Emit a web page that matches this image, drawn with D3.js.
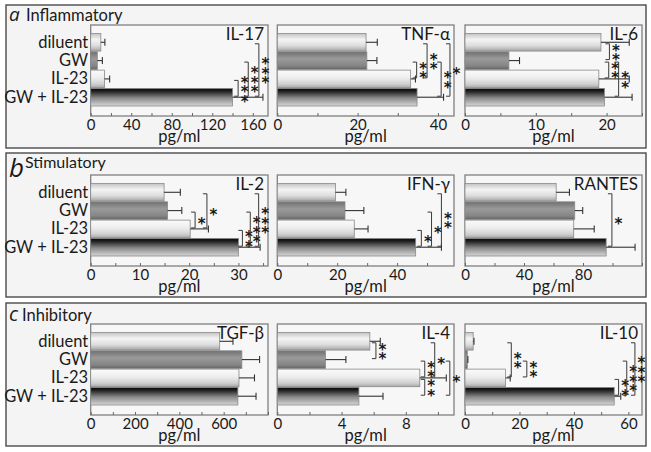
<!DOCTYPE html>
<html><head><meta charset="utf-8">
<script src="https://cdn.jsdelivr.net/npm/d3@7"></script>
<style>
body{margin:0;background:#fff}
text{font-family:Lato,"Open Sans",sans-serif;fill:#1a1a1a}
</style>
</head><body>
<svg id="c" width="651" height="452"></svg>
<script>
// ---------------- data ----------------
const categories = ["diluent", "GW", "IL-23", "GW + IL-23"];
const rowLetters = ["a", "b", "c"];
const rowTitles = ["Inflammatory", "Stimulatory", "Inhibitory"];
const cytokines = ["IL-17", "TNF-α", "IL-6", "IL-2", "IFN-γ", "RANTES", "TGF-β", "IL-4", "IL-10"];
const axisLabel = "pg/ml";

// means (pg/ml) per cytokine, in category order
const il17Mean = [10, 6.5, 13.7, 140];
const tnfMean = [22.1, 22.3, 33.2, 34.8];
const il6Mean = [19.2, 6.2, 18.9, 19.7];
const il2Mean = [14.9, 15.6, 20.2, 30];
const ifnMean = [19.4, 22.6, 25.7, 46.2];
const rantesMean = [61.8, 74.4, 73.7, 95.7];
const tgfMean = [582, 682, 669, 664];
const il4Mean = [5.76, 3.0, 8.87, 5.08];
const il10Mean = [3.0, 0.85, 14.9, 54.8];

// error (SD) per cytokine
const il17Err = [4, 5, 5, 30];
const tnfErr = [2.8, 2.5, 1.2, 6.6];
const il6Err = [4, 1.5, 4.3, 3.9];
const il2Err = [3.3, 2.9, 3.7, 4.4];
const ifnErr = [3.5, 6.3, 4.6, 8.6];
const rantesErr = [9, 5.4, 13.9, 19.6];
const tgfErr = [60, 80, 70, 82];
const il4Err = [0.65, 1.27, 1.65, 1.5];
const il10Err = [0.3, 0.2, 1.7, 2.4];

// axis maxima and tick labels
const axisMax = [175, 44, 25, 36, 59, 120, 800, 11, 65];
const tickLabels = [[0, 40, 80, 120, 160], [0, 20, 40], [0, 10, 20], [0, 10, 20, 30], [0, 20, 40], [0, 40, 80], [0, 200, 400, 600], [0, 4, 8], [0, 20, 40, 60]];
const minorStep = [20, 10, 5, 5, 10, 20, 100, 2, 10];

// significance brackets: [from category, to category, bracket position (pg/ml), stars]
const il17Sig = [[2, 3, 145.5, "***"], [1, 3, 155.5, "***"], [0, 3, 166, "***"]];
const tnfSig = [[1, 2, 34.7, "**"], [0, 2, 37.3, "**"], [1, 3, 40.8, "**"], [0, 3, 43, "*"]];
const il6Sig = [[0, 1, 20.4, "**"], [1, 2, 20.3, "**"], [1, 3, 21.7, "**"]];
const il2Sig = [[1, 2, 21.2, "*"], [0, 2, 23.6, "*"], [2, 3, 30.8, "**"], [1, 3, 32.4, "***"], [0, 3, 34.1, "***"]];
const ifnSig = [[2, 3, 48.1, "*"], [1, 3, 51.5, "*"], [0, 3, 54.8, "**"]];
const rantesSig = [[0, 3, 99.6, "*"]];
const tgfSig = [];
const il4Sig = [[0, 1, 6.14, "**"], [1, 2, 9.18, "**"], [2, 3, 9.18, "**"], [0, 2, 9.8, "*"], [1, 3, 10.74, "*"]];
const il10Sig = [[0, 2, 17, "**"], [1, 2, 22.7, "**"], [2, 3, 56.4, "**"], [1, 3, 59.4, "***"], [0, 3, 62.4, "***"]];

const means = [il17Mean, tnfMean, il6Mean, il2Mean, ifnMean, rantesMean, tgfMean, il4Mean, il10Mean];
const errs = [il17Err, tnfErr, il6Err, il2Err, ifnErr, rantesErr, tgfErr, il4Err, il10Err];
const sigs = [il17Sig, tnfSig, il6Sig, il2Sig, ifnSig, rantesSig, tgfSig, il4Sig, il10Sig];

// ---------------- layout / style ----------------
const svg = d3.select("#c");
const defs = svg.append("defs");
const gradStops = [
  [[0, "#c4c4c4"], [0.35, "#f4f4f4"], [0.7, "#dcdcdc"], [1, "#a4a4a4"]],
  [[0, "#707070"], [0.4, "#9a9a9a"], [0.8, "#858585"], [1, "#666"]],
  [[0, "#fbfbfb"], [0.45, "#ededed"], [0.8, "#cfcfcf"], [1, "#a8a8a8"]],
  [[0, "#080808"], [0.15, "#1e1e1e"], [0.55, "#8a8a8a"], [1, "#d6d6d6"]]
];
gradStops.forEach((st, i) => {
  const g = defs.append("linearGradient").attr("id", "grad" + i)
    .attr("x1", 0).attr("y1", 0).attr("x2", 0).attr("y2", 1);
  st.forEach(s => g.append("stop").attr("offset", s[0]).attr("stop-color", s[1]));
});

const rowBox = [[5, 148], [153, 297], [303, 446]];
const rowTop = [25, 175, 324];
const colX = [[90.7, 268], [277.3, 454], [465, 642]];
const letterSize = [19, 26, 20];
const letterBase = [21, 177, 321];
const titleX = [26, 25, 22];
const titleBase = [21, 168, 321];
const titleSize = [16.5, 16, 16.5];

rowBox.forEach((b, r) => {
  svg.append("rect").attr("x", 6).attr("y", b[0]).attr("width", 640).attr("height", b[1] - b[0])
    .attr("fill", "#f4f4f4").attr("stroke", "#4a4a4a").attr("stroke-width", 1.4);
  svg.append("text").attr("x", 9).attr("y", letterBase[r]).text(rowLetters[r])
    .style("font-family", "'Open Sans'").style("font-style", "italic")
    .style("font-size", letterSize[r] + "px");
  svg.append("text").attr("x", titleX[r]).attr("y", titleBase[r]).text(rowTitles[r])
    .style("font-size", titleSize[r] + "px");
});

cytokines.forEach((name, k) => {
  const r = Math.floor(k / 3), c = k % 3;
  const top = rowTop[r], bottom = top + 91;
  const x = d3.scaleLinear().domain([0, axisMax[k]]).range(colX[c]);
  const y = d3.scaleBand().domain(categories).range([top + 8.5, top + 81]).paddingInner(0.04);
  const bw = y.bandwidth();
  const g = svg.append("g");

  g.append("rect").attr("x", colX[c][0]).attr("y", top).attr("width", colX[c][1] - colX[c][0])
    .attr("height", bottom - top).attr("fill", "#f7f7f7").attr("stroke", "#808080").attr("stroke-width", 1.3);

  // bars
  g.selectAll(".bar").data(categories).join("rect")
    .attr("x", x(0)).attr("y", d => y(d))
    .attr("width", (d, i) => x(means[k][i]) - x(0)).attr("height", bw)
    .attr("fill", (d, i) => `url(#grad${i})`).attr("stroke", "#8a8a8a").attr("stroke-width", 0.8);

  // error bars
  categories.forEach((d, i) => {
    const yc = y(d) + bw / 2, x0 = x(means[k][i]), x1 = x(means[k][i] + errs[k][i]);
    g.append("line").attr("x1", x0).attr("x2", x1).attr("y1", yc).attr("y2", yc)
      .attr("stroke", "#333").attr("stroke-width", 1.1);
    g.append("line").attr("x1", x1).attr("x2", x1).attr("y1", yc - 3.5).attr("y2", yc + 3.5)
      .attr("stroke", "#333").attr("stroke-width", 1.1);
  });

  // significance brackets
  sigs[k].forEach(s => {
    const yA = y(categories[s[0]]) + bw / 2 + 1.5, yB = y(categories[s[1]]) + bw / 2 - 1;
    const xv = x(s[2]);
    g.append("path").attr("d", `M${xv - 4},${yA}H${xv}V${yB}H${xv - 4}`)
      .attr("fill", "none").attr("stroke", "#3a3a3a").attr("stroke-width", 1);
    const n = s[3].length, mid = (yA + yB) / 2, sp = 9.5;
    const t = g.append("text").attr("text-anchor", "middle")
      .style("font-family", "'DejaVu Sans'").style("font-weight", "bold")
      .style("font-size", "15px").attr("fill", "#222");
    for (let j = 0; j < n; j++) {
      const cy = mid + (j - (n - 1) / 2) * sp;
      t.append("tspan").attr("x", xv + 6.5).attr("y", cy + 8.7).text("*");
    }
  });

  // axis
  const ticks = d3.range(0, axisMax[k] + 1e-9, minorStep[k]);
  const ax = d3.axisBottom(x).tickValues(ticks).tickSize(-3).tickPadding(3.5)
    .tickFormat(d => tickLabels[k].includes(d) ? d : "");
  const axg = g.append("g").attr("transform", `translate(0,${bottom})`).call(ax);
  axg.select(".domain").remove();
  axg.selectAll(".tick line").attr("stroke", "#666");
  axg.selectAll(".tick text").style("font-size", "15px").style("font-family", "Lato").attr("fill", "#1a1a1a");

  g.append("text").attr("x", (colX[c][0] + colX[c][1]) / 2).attr("y", bottom + 26)
    .attr("text-anchor", "middle").style("font-size", "16.5px").text(axisLabel);

  // cytokine name
  g.append("text").attr("x", colX[c][1] - 4).attr("y", top + 15).attr("text-anchor", "end")
    .style("font-size", "17px").text(name);

  // category labels
  if (c === 0) {
    categories.forEach(d => {
      g.append("text").attr("x", colX[c][0] - 2.5).attr("y", y(d) + bw / 2 + 5.5)
        .attr("text-anchor", "end").style("font-size", "16.5px").text(d);
    });
  }
});
</script>
</body></html>
